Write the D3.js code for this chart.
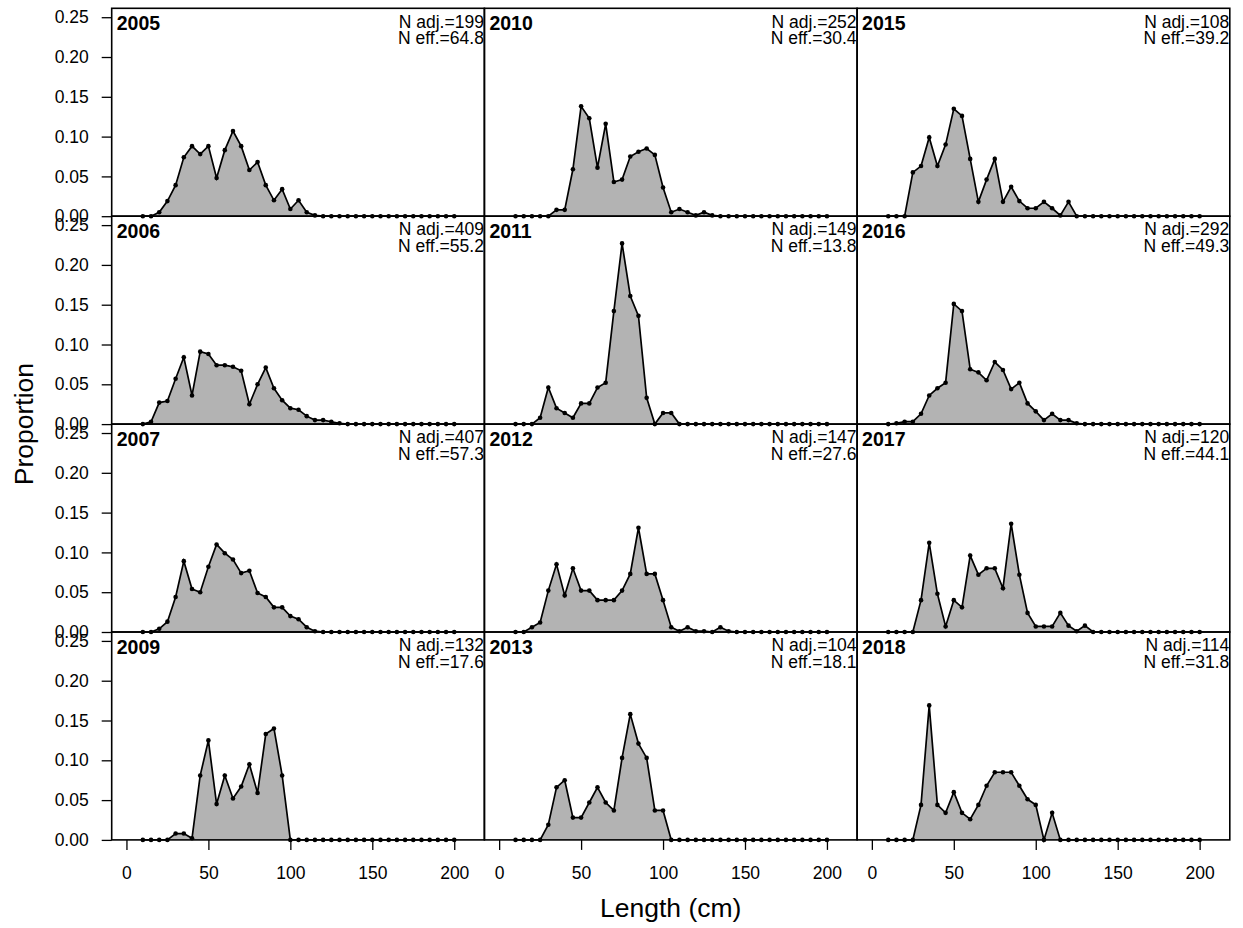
<!DOCTYPE html>
<html>
<head>
<meta charset="utf-8">
<script src="https://cdn.jsdelivr.net/npm/d3@7"></script>
<style>
  body { margin: 0; background: #fff; }
  text { font-family: "Liberation Sans", Arial, sans-serif; fill: #000; }
</style>
</head>
<body>
<script>
// length bins (cm)
var lengths = [10, 15, 20, 25, 30, 35, 40, 45, 50, 55, 60, 65, 70, 75, 80, 85, 90, 95, 100, 105,
               110, 115, 120, 125, 130, 135, 140, 145, 150, 155, 160, 165, 170, 175, 180, 185, 190, 195, 200];

var years = ["2005", "2006", "2007", "2009", "2010", "2011", "2012", "2013", "2015", "2016", "2017", "2018"];
var nAdj = [199, 409, 407, 132, 252, 149, 147, 104, 108, 292, 120, 114];
var nEff = ["64.8", "55.2", "57.3", "17.6", "30.4", "13.8", "27.6", "18.1", "39.2", "49.3", "44.1", "31.8"];

var p2005 = [0, 0, 0.005, 0.019, 0.039, 0.074, 0.088, 0.078, 0.088, 0.048, 0.083, 0.107, 0.088, 0.058, 0.068, 0.039, 0.020, 0.034, 0.009, 0.020,
             0.005, 0.001, 0, 0, 0, 0, 0, 0, 0, 0, 0, 0, 0, 0, 0, 0, 0, 0, 0];
var p2006 = [0, 0.003, 0.027, 0.029, 0.057, 0.084, 0.036, 0.091, 0.088, 0.074, 0.074, 0.072, 0.067, 0.025, 0.050, 0.071, 0.045, 0.030, 0.020, 0.018,
             0.010, 0.005, 0.005, 0.003, 0.001, 0, 0, 0, 0, 0, 0, 0, 0, 0, 0, 0, 0, 0, 0];
var p2007 = [0, 0, 0.004, 0.013, 0.044, 0.089, 0.054, 0.050, 0.082, 0.110, 0.099, 0.091, 0.074, 0.077, 0.049, 0.044, 0.031, 0.031, 0.020, 0.016,
             0.006, 0.001, 0, 0, 0, 0, 0, 0, 0, 0, 0, 0, 0, 0, 0, 0, 0, 0, 0];
var p2009 = [0, 0, 0, 0, 0.008, 0.008, 0.002, 0.081, 0.125, 0.045, 0.081, 0.052, 0.067, 0.095, 0.059, 0.133, 0.140, 0.081, 0, 0,
             0, 0, 0, 0, 0, 0, 0, 0, 0, 0, 0, 0, 0, 0, 0, 0, 0, 0, 0];
var p2010 = [0, 0, 0, 0, 0, 0.008, 0.008, 0.059, 0.138, 0.123, 0.061, 0.116, 0.043, 0.046, 0.075, 0.081, 0.085, 0.077, 0.036, 0.005,
             0.009, 0.005, 0.001, 0.005, 0.001, 0, 0, 0, 0, 0, 0, 0, 0, 0, 0, 0, 0, 0, 0];
var p2011 = [0, 0, 0, 0.008, 0.046, 0.020, 0.014, 0.008, 0.026, 0.026, 0.046, 0.052, 0.142, 0.227, 0.161, 0.136, 0.033, 0, 0.014, 0.014,
             0, 0, 0, 0, 0, 0, 0, 0, 0, 0, 0, 0, 0, 0, 0, 0, 0, 0, 0];
var p2012 = [0, 0, 0.006, 0.012, 0.052, 0.085, 0.046, 0.080, 0.052, 0.052, 0.040, 0.040, 0.040, 0.052, 0.073, 0.131, 0.073, 0.073, 0.040, 0.006,
             0.001, 0.006, 0.001, 0.001, 0, 0.006, 0.001, 0, 0, 0, 0, 0, 0, 0, 0, 0, 0, 0, 0];
var p2013 = [0, 0, 0, 0, 0.019, 0.066, 0.075, 0.028, 0.028, 0.047, 0.066, 0.047, 0.037, 0.103, 0.158, 0.121, 0.103, 0.037, 0.037, 0,
             0, 0, 0, 0, 0, 0, 0, 0, 0, 0, 0, 0, 0, 0, 0, 0, 0, 0, 0];
var p2015 = [0, 0, 0, 0.055, 0.063, 0.099, 0.063, 0.090, 0.135, 0.126, 0.072, 0.018, 0.046, 0.072, 0.018, 0.037, 0.019, 0.010, 0.010, 0.018,
             0.010, 0.001, 0.018, 0, 0, 0, 0, 0, 0, 0, 0, 0, 0, 0, 0, 0, 0, 0, 0];
var p2016 = [0, 0.001, 0.003, 0.003, 0.013, 0.036, 0.045, 0.052, 0.151, 0.142, 0.069, 0.065, 0.055, 0.078, 0.068, 0.044, 0.052, 0.026, 0.016, 0.005,
             0.013, 0.005, 0.005, 0.001, 0, 0, 0, 0, 0, 0, 0, 0, 0, 0, 0, 0, 0, 0, 0];
var p2017 = [0, 0, 0, 0, 0.040, 0.112, 0.048, 0.007, 0.040, 0.031, 0.096, 0.072, 0.080, 0.080, 0.055, 0.136, 0.072, 0.024, 0.007, 0.007,
             0.007, 0.024, 0.008, 0.001, 0.008, 0, 0, 0, 0, 0, 0, 0, 0, 0, 0, 0, 0, 0, 0];
var p2018 = [0, 0, 0, 0, 0.044, 0.169, 0.044, 0.034, 0.060, 0.034, 0.026, 0.044, 0.068, 0.085, 0.085, 0.085, 0.068, 0.051, 0.044, 0,
             0.034, 0, 0, 0, 0, 0, 0, 0, 0, 0, 0, 0, 0, 0, 0, 0, 0, 0, 0];

var props = [p2005, p2006, p2007, p2009, p2010, p2011, p2012, p2013, p2015, p2016, p2017, p2018];

var yTicks = [0, 0.05, 0.10, 0.15, 0.20, 0.25];
var xTicks = [0, 50, 100, 150, 200];

var W = 1243, H = 928;
var plotLeft = 111.7, plotTop = 8.3;
var colW = 372.7, rowH = 207.9;
var nRows = 4;

var svg = d3.select("body").append("svg")
    .attr("width", W)
    .attr("height", H);

var x = d3.scaleLinear().domain([-9, 218.4]).range([0, colW]);
var y = d3.scaleLinear().domain([0, 0.2612]).range([rowH, 0]);

var area = d3.area()
    .x(function(d) { return x(d.len); })
    .y0(y(0))
    .y1(function(d) { return y(d.p); });

var line = d3.line()
    .x(function(d) { return x(d.len); })
    .y(function(d) { return y(d.p); });

years.forEach(function(yr, i) {
  var col = Math.floor(i / nRows), row = i % nRows;
  var pts = lengths.map(function(l, j) { return {len: l, p: props[i][j]}; });

  var g = svg.append("g")
      .attr("transform", "translate(" + (plotLeft + col * colW) + "," + (plotTop + row * rowH) + ")");

  g.append("path")
      .attr("d", area(pts))
      .attr("fill", "#b3b3b3")
      .attr("stroke", "none");

  g.append("path")
      .attr("d", line(pts))
      .attr("fill", "none")
      .attr("stroke", "#000")
      .attr("stroke-width", 1.7);

  g.selectAll("circle")
      .data(pts)
      .enter().append("circle")
      .attr("cx", function(d) { return x(d.len); })
      .attr("cy", function(d) { return y(d.p); })
      .attr("r", 2.3)
      .attr("fill", "#000");

  g.append("rect")
      .attr("width", colW)
      .attr("height", rowH)
      .attr("fill", "none")
      .attr("stroke", "#000")
      .attr("stroke-width", 1.6);

  g.append("text")
      .attr("x", 5)
      .attr("y", 22)
      .style("font-size", "19.5px")
      .style("font-weight", "bold")
      .text(yr);

  g.append("text")
      .attr("x", colW - 0.5)
      .attr("y", 19.3)
      .attr("text-anchor", "end")
      .style("font-size", "17.5px")
      .text("N adj.=" + nAdj[i]);

  g.append("text")
      .attr("x", colW - 0.5)
      .attr("y", 35.8)
      .attr("text-anchor", "end")
      .style("font-size", "17.5px")
      .text("N eff.=" + nEff[i]);

  if (col === 0) {
    var ya = g.append("g")
        .call(d3.axisLeft(y).tickValues(yTicks).tickFormat(d3.format(".2f")).tickSize(10).tickPadding(13));
    ya.select(".domain").remove();
    ya.selectAll("line").attr("stroke", "#000").attr("stroke-width", 1.3);
    ya.selectAll("text").style("font-size", "17.5px").style("font-family", "Liberation Sans, Arial, sans-serif");
  }
  if (row === nRows - 1) {
    var xa = g.append("g")
        .attr("transform", "translate(0," + rowH + ")")
        .call(d3.axisBottom(x).tickValues(xTicks).tickSize(10).tickPadding(17));
    xa.select(".domain").remove();
    xa.selectAll("line").attr("stroke", "#000").attr("stroke-width", 1.3);
    xa.selectAll("text").style("font-size", "17.5px").style("font-family", "Liberation Sans, Arial, sans-serif");
  }
});

svg.append("text")
    .attr("x", plotLeft + 1.5 * colW)
    .attr("y", 917)
    .attr("text-anchor", "middle")
    .style("font-size", "26.5px")
    .text("Length (cm)");

svg.append("text")
    .attr("transform", "translate(33," + (plotTop + 2 * rowH) + ") rotate(-90)")
    .attr("text-anchor", "middle")
    .style("font-size", "26.5px")
    .text("Proportion");
</script>
</body>
</html>
